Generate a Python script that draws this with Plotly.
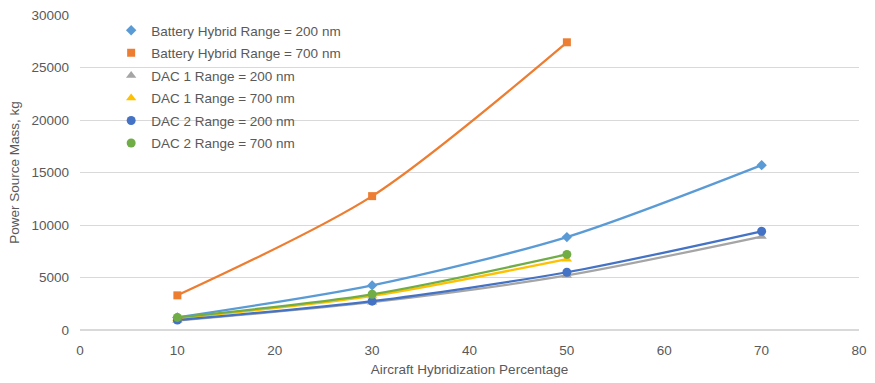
import plotly.graph_objects as go

x_short = [10, 30, 50]
x_long = [10, 30, 50, 70]

battery_200 = [1200, 4250, 8850, 15700]
battery_700 = [3300, 12750, 27400]
dac1_200 = [900, 2650, 5200, 8900]
dac1_700 = [1100, 3250, 6750]
dac2_200 = [950, 2750, 5500, 9400]
dac2_700 = [1200, 3400, 7200]

series = [
    ("Battery Hybrid Range = 200 nm", x_long, battery_200, "#5B9BD5", "diamond", 8),
    ("Battery Hybrid Range = 700 nm", x_short, battery_700, "#ED7D31", "square", 8),
    ("DAC 1 Range = 200 nm", x_long, dac1_200, "#A5A5A5", "triangle-up", 9),
    ("DAC 1 Range = 700 nm", x_short, dac1_700, "#FFC000", "triangle-up", 9),
    ("DAC 2 Range = 200 nm", x_long, dac2_200, "#4472C4", "circle", 9),
    ("DAC 2 Range = 700 nm", x_short, dac2_700, "#70AD47", "circle", 9),
]

fig = go.Figure()
for i, (name, xs, ys, color, sym, sz) in enumerate(series):
    fig.add_trace(go.Scatter(
        x=xs, y=ys, name=name, mode="lines",
        line=dict(color=color, width=2.25, shape="spline", smoothing=0.8),
        showlegend=False, legendgroup=f"g{i}", hoverinfo="skip",
    ))
for i, (name, xs, ys, color, sym, sz) in enumerate(series):
    fig.add_trace(go.Scatter(
        x=xs, y=ys, name=name, mode="markers",
        marker=dict(symbol=sym, size=sz, color=color),
        legendgroup=f"g{i}",
    ))

font_family = "Liberation Sans, Arial, sans-serif"
txt = "#595959"
fig.update_layout(
    width=875, height=383,
    margin=dict(l=80, r=8, t=8, b=52),
    paper_bgcolor="white", plot_bgcolor="white",
    font=dict(family=font_family, size=13.5, color=txt),
    showlegend=True,
    legend=dict(
        x=0.04, y=1.0, xanchor="left", yanchor="top",
        bgcolor="rgba(0,0,0,0)", tracegroupgap=2,
        font=dict(family=font_family, size=13.5, color=txt),
        itemwidth=30,
    ),
    xaxis=dict(
        range=[0, 80], tickmode="array", tickvals=[0, 10, 20, 30, 40, 50, 60, 70, 80],
        showgrid=False, zeroline=False, showline=False,
        title=dict(text="Aircraft Hybridization Percentage", standoff=8,
                   font=dict(family=font_family, size=13.5, color=txt)),
        ticks="", ticklabelstandoff=10, tickfont=dict(size=13.5),
    ),
    yaxis=dict(
        range=[0, 30000], tickmode="array",
        tickvals=[0, 5000, 10000, 15000, 20000, 25000, 30000],
        showgrid=True, gridcolor="#D9D9D9", gridwidth=1,
        zeroline=True, zerolinecolor="#D9D9D9", zerolinewidth=1.5,
        showline=False, ticks="", tickformat="d", ticklabelstandoff=10,
        title=dict(text="Power Source Mass, kg", standoff=8,
                   font=dict(family=font_family, size=13.5, color=txt)),
        tickfont=dict(size=13.5),
    ),
)

fig.write_html("out.html")
